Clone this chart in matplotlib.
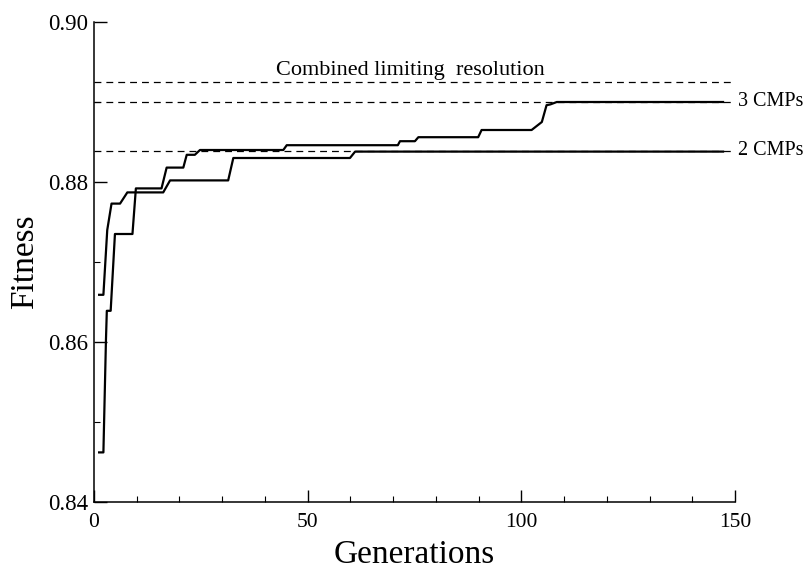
import matplotlib
matplotlib.use("Agg")
import matplotlib.pyplot as plt
from matplotlib.ticker import MultipleLocator, FormatStrFormatter

plt.rcParams['font.family'] = ['Liberation Serif', 'DejaVu Serif']

# ------------------------------
# DADOS
# ------------------------------
# curva que chega a 3 CMPs
gen_3cmp = [1.2, 2.2, 2.8, 3.0, 3.9, 4.9, 9.0, 9.8, 15.8, 17.0, 20.9, 21.7, 23.6, 24.8,
            44.3, 45.1, 71.1, 71.6, 75.1, 75.9, 89.9, 90.7, 102.4, 104.8, 105.9,
            106.8, 108.3, 147.2]
fit_3cmp = [0.8462, 0.8462, 0.8603, 0.8639, 0.8639, 0.8735, 0.8735, 0.8792, 0.8792,
            0.8818, 0.8818, 0.8834, 0.8834, 0.8840, 0.8840, 0.8846, 0.8846, 0.8851,
            0.8851, 0.8856, 0.8856, 0.8865, 0.8865, 0.8875, 0.8896, 0.8897, 0.8900,
            0.8900]

# curva que chega a 2 CMPs
gen_2cmp = [1.2, 2.2, 3.1, 4.1, 6.1, 7.8, 16.2, 17.8, 31.4, 32.6, 59.9, 61.1, 147.2]
fit_2cmp = [0.8659, 0.8659, 0.8740, 0.8773, 0.8773, 0.8787, 0.8787, 0.8802, 0.8802,
            0.8830, 0.8830, 0.8838, 0.8838]

# linhas tracejadas de referência
ref_nomes = ["Combined limiting  resolution", "3 CMPs", "2 CMPs"]
ref_valores = [0.8925, 0.8900, 0.8839]

x_ticks = [0, 50, 100, 150]
y_ticks = [0.84, 0.86, 0.88, 0.90]

# ------------------------------
# GRÁFICO
# ------------------------------
fig = plt.figure(figsize=(8.08, 5.77), dpi=100)
ax = fig.add_axes([94 / 808, 1 - 502 / 577, (735 - 94) / 808, (502 - 22) / 577])

for v in ref_valores:
    ax.plot([0, 150], [v, v], color='black', lw=0.9, dashes=(5.5, 4))

ax.plot(gen_3cmp, fit_3cmp, color='black', lw=1.6)
ax.plot(gen_2cmp, fit_2cmp, color='black', lw=1.6)

ax.text(42.6, 0.8934, ref_nomes[0], fontsize=16, ha='left', va='baseline')
ax.text(150.8, ref_valores[1], ref_nomes[1], fontsize=14.5, ha='left', va='center',
        clip_on=False)
ax.text(150.8, ref_valores[2], ref_nomes[2], fontsize=14.5, ha='left', va='center',
        clip_on=False)

ax.set_xlim(0, 150)
ax.set_ylim(0.84, 0.90)
ax.set_xticks(x_ticks)
ax.set_yticks(y_ticks)
ax.xaxis.set_minor_locator(MultipleLocator(10))
ax.yaxis.set_minor_locator(MultipleLocator(0.01))
ax.yaxis.set_major_formatter(FormatStrFormatter('%.2f'))

ax.spines['top'].set_visible(False)
ax.spines['right'].set_visible(False)
for s in ('left', 'bottom'):
    ax.spines[s].set_linewidth(1.1)

ax.tick_params(which='major', direction='in', length=9, width=1.0, labelsize=15.5)
ax.tick_params(axis='y', which='major', labelsize=16.5, pad=4)
ax.tick_params(axis='x', which='major', pad=8)
ax.tick_params(which='minor', direction='in', length=4.5, width=0.8)

ax.set_xlabel("Generations", fontsize=24, labelpad=5)
ax.set_ylabel("Fitness", fontsize=24, labelpad=6)

fig.savefig("out.png", dpi=100)
